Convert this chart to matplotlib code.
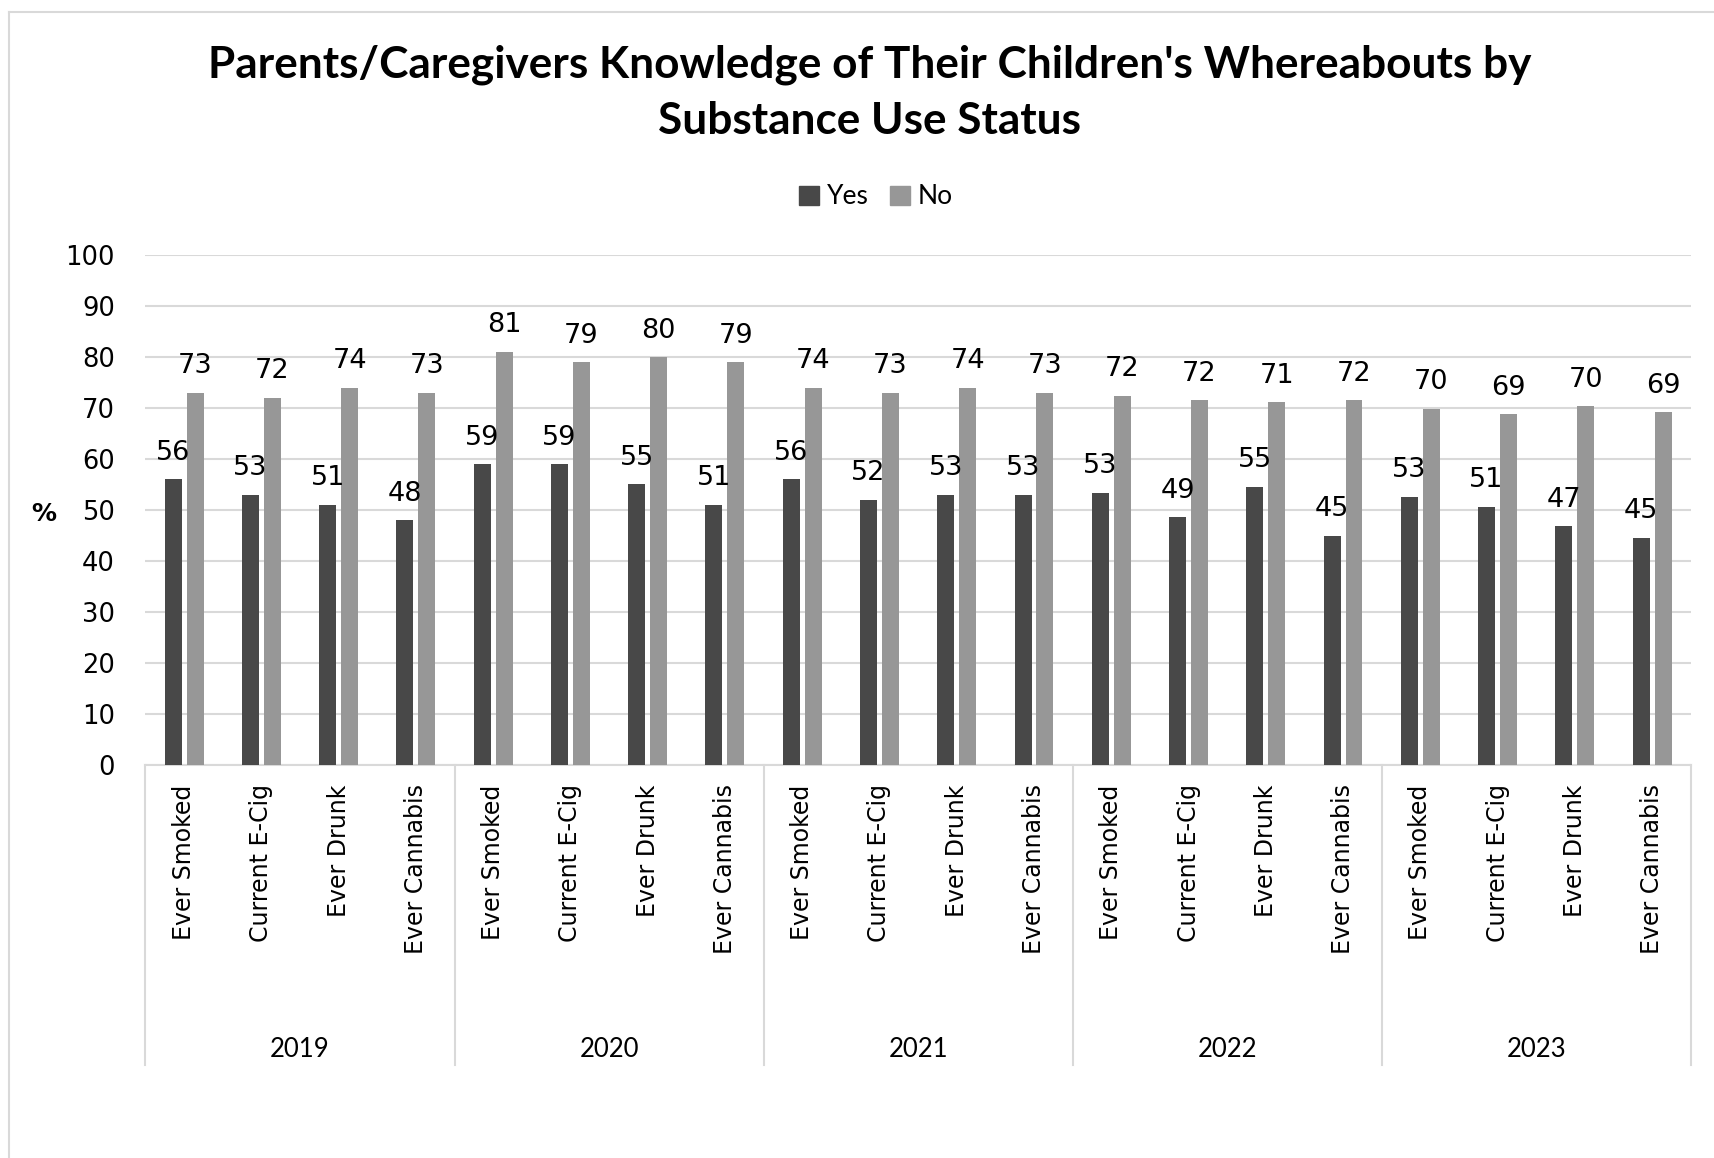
import matplotlib
matplotlib.use("Agg")
import matplotlib.pyplot as plt
from matplotlib.lines import Line2D
from matplotlib.patches import Patch
import numpy as np

years = ["2019", "2020", "2021", "2022", "2023"]
measures = ["Ever Smoked", "Current E-Cig", "Ever Drunk", "Ever Cannabis"]

# % knowing whereabouts, per year x measure, for users (Yes) and non-users (No)
yes_vals = [56, 53, 51, 48,
            59, 59, 55, 51,
            56, 52, 53, 53,
            53.4, 48.6, 54.6, 45.0,
            52.6, 50.6, 46.8, 44.6]
no_vals = [73, 72, 74, 73,
           81, 79, 80, 79,
           74, 73, 74, 73,
           72.4, 71.5, 71.1, 71.5,
           69.9, 68.8, 70.3, 69.2]

yes_color = "#484848"
no_color = "#979797"
grid_color = "#d9d9d9"
calibri_like = "Lato"

fig = plt.figure(figsize=(17.15, 11.58), dpi=100)
ax = fig.add_axes([145.5 / 1715, 1 - 765 / 1158, (1690.7 - 145.5) / 1715, 510 / 1158])

n = len(yes_vals)
x = np.arange(n)
w = 0.22
off = 0.142
b1 = ax.bar(x - off, yes_vals, w, color=yes_color, zorder=3)
b2 = ax.bar(x + off, no_vals, w, color=no_color, zorder=3)

for bars, vals in [(b1, yes_vals), (b2, no_vals)]:
    for rect, v in zip(bars, vals):
        ax.annotate(f"{v:.0f}", (rect.get_x() + rect.get_width() / 2, v),
                    xytext=(0, 14), textcoords="offset points",
                    ha="center", va="baseline", fontsize=19.5, color="black")

ax.set_ylim(0, 100)
ax.set_xlim(-0.5, n - 0.5)
ax.set_yticks(range(0, 101, 10))
ax.tick_params(axis="y", length=0, pad=22, labelsize=18.5)
ax.yaxis.grid(True, color=grid_color, linewidth=1.5, zorder=0)
ax.set_axisbelow(True)

ax.set_xticks(x)
ax.set_xticklabels(measures * len(years), rotation=90, fontsize=17)
ax.tick_params(axis="x", length=0, pad=14)

for s in ["left", "right", "top"]:
    ax.spines[s].set_visible(False)
ax.spines["bottom"].set_color(grid_color)
ax.spines["bottom"].set_linewidth(1.5)

# year group separators and labels
trans = ax.get_xaxis_transform()
for k in range(len(years) + 1):
    xb = k * len(measures) - 0.5
    ax.add_line(Line2D([xb, xb], [0, -0.588], transform=trans, color=grid_color,
                       linewidth=1.5, clip_on=False))
for k, yr in enumerate(years):
    xc = k * len(measures) + (len(measures) - 1) / 2
    ax.text(xc, -0.557, yr, transform=trans, ha="center", va="center",
            fontsize=18.5, family=calibri_like)

fig.text(44 / 1715, 1 - 514 / 1158, "%", ha="center", va="center",
         fontsize=18, fontweight="bold")

title_x = 870 / 1715
fig.text(title_x, 1 - 65 / 1158,
         "Parents/Caregivers Knowledge of Their Children's Whereabouts by",
         ha="center", va="center", fontsize=31.8, fontweight="bold", family=calibri_like)
fig.text(title_x, 1 - 121 / 1158, "Substance Use Status",
         ha="center", va="center", fontsize=31.8, fontweight="bold", family=calibri_like)

handles = [Patch(color=yes_color), Patch(color=no_color)]
fig.legend(handles, ["Yes", "No"], loc="center", bbox_to_anchor=(876 / 1715, 1 - 197 / 1158),
           ncol=2, frameon=False, prop={"family": calibri_like, "size": 19},
           handlelength=0.75, handleheight=0.75, handletextpad=0.3, columnspacing=0.8)

# outer chart border (only top and left visible in the crop)
fig.add_artist(Line2D([9 / 1715, 9 / 1715], [0, 1 - 12 / 1158], transform=fig.transFigure,
                      color=grid_color, linewidth=1.5))
fig.add_artist(Line2D([9 / 1715, 1], [1 - 12 / 1158, 1 - 12 / 1158], transform=fig.transFigure,
                      color=grid_color, linewidth=1.5))

fig.savefig("out.png", dpi=100, facecolor="white")
